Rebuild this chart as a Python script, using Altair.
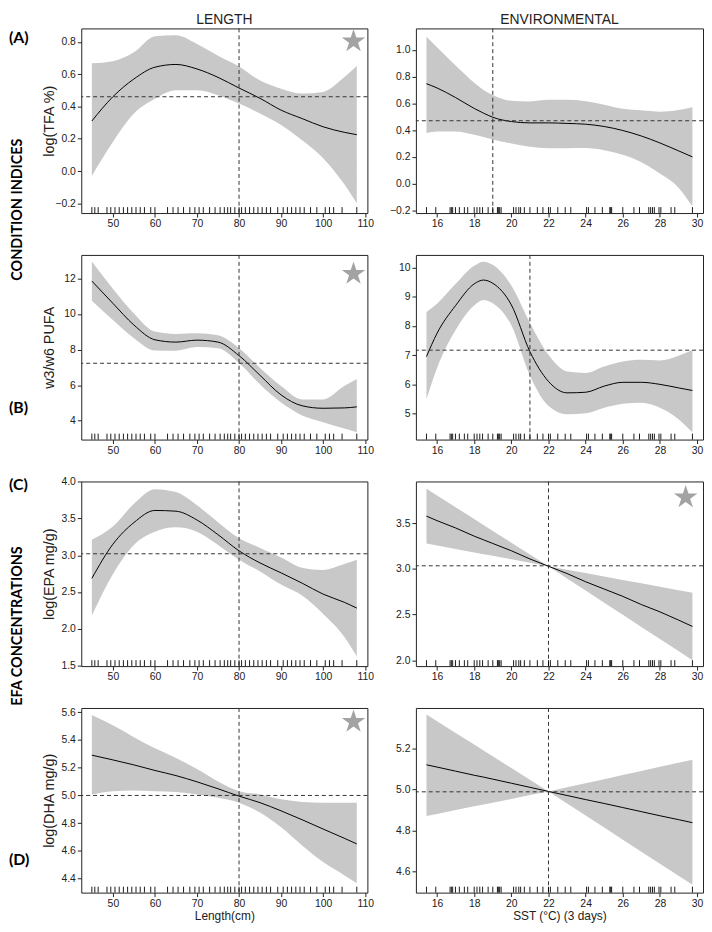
import altair as alt
import pandas as pd

# ---------------- data ----------------
LEN_X = [45, 50, 55, 60, 65, 70, 75, 80, 85, 90, 95, 100, 105, 108]
SST_X = [15.43, 16, 17, 18, 18.5, 19, 20, 21, 22, 23, 24, 25, 26, 27, 28, 29, 29.75]

# (A) log(TFA %)
TFA_LEN_FIT = [0.31, 0.46, 0.57, 0.643, 0.66, 0.632, 0.58, 0.514, 0.45, 0.377, 0.325, 0.274, 0.24, 0.225]
TFA_LEN_UP = [0.667, 0.68, 0.735, 0.835, 0.84, 0.786, 0.714, 0.648, 0.56, 0.51, 0.48, 0.49, 0.58, 0.65]
TFA_LEN_LO = [-0.03, 0.18, 0.356, 0.448, 0.5, 0.5, 0.47, 0.418, 0.356, 0.285, 0.19, 0.08, -0.08, -0.2]
TFA_SST_FIT = [0.747, 0.715, 0.643, 0.562, 0.527, 0.496, 0.464, 0.454, 0.454, 0.45, 0.444, 0.427, 0.397, 0.356, 0.304, 0.245, 0.20]
TFA_SST_UP = [1.098, 1.02, 0.882, 0.754, 0.70, 0.663, 0.619, 0.614, 0.626, 0.626, 0.616, 0.59, 0.56, 0.548, 0.538, 0.55, 0.57]
TFA_SST_LO = [0.378, 0.39, 0.39, 0.365, 0.348, 0.33, 0.30, 0.275, 0.265, 0.265, 0.266, 0.25, 0.215, 0.16, 0.075, -0.03, -0.17]

# (B) w3/w6 PUFA
PUFA_LEN_FIT = [11.85, 10.6, 9.38, 8.55, 8.42, 8.53, 8.42, 7.66, 6.55, 5.45, 4.84, 4.7, 4.72, 4.78]
PUFA_LEN_UP = [12.95, 11.42, 10.03, 9.01, 8.88, 8.92, 8.8, 8.08, 6.97, 5.95, 5.2, 5.2, 5.95, 6.35]
PUFA_LEN_LO = [10.75, 9.66, 8.64, 7.95, 7.94, 8.14, 8.08, 7.25, 6.04, 5.02, 4.3, 3.92, 3.56, 3.35]
PUFA_SST_FIT = [6.95, 7.75, 8.7, 9.44, 9.57, 9.46, 8.72, 7.12, 6.1, 5.71, 5.73, 5.94, 6.07, 6.07, 6.0, 5.88, 5.79]
PUFA_SST_UP = [8.48, 8.76, 9.44, 10.06, 10.2, 10.09, 9.38, 8.1, 7.01, 6.44, 6.39, 6.61, 6.78, 6.84, 6.82, 6.98, 7.18]
PUFA_SST_LO = [5.49, 6.56, 7.86, 8.7, 8.89, 8.78, 8.02, 6.3, 5.26, 4.98, 5.01, 5.2, 5.34, 5.37, 5.2, 4.81, 4.36]

# (C) log(EPA mg/g)
EPA_LEN_FIT = [2.685, 3.15, 3.445, 3.61, 3.6, 3.48, 3.28, 3.06, 2.895, 2.76, 2.62, 2.47, 2.36, 2.28]
EPA_LEN_UP = [3.21, 3.39, 3.70, 3.90, 3.86, 3.68, 3.45, 3.23, 3.1, 2.97, 2.83, 2.8, 2.88, 2.94]
EPA_LEN_LO = [2.18, 2.74, 3.14, 3.32, 3.38, 3.32, 3.14, 2.94, 2.78, 2.6, 2.45, 2.2, 1.89, 1.62]
EPA_SST_FIT = [3.58, 3.53, 3.45, 3.36, 3.32, 3.28, 3.2, 3.11, 3.03, 2.95, 2.86, 2.78, 2.7, 2.61, 2.53, 2.44, 2.37]
EPA_SST_UP = [3.88, 3.806, 3.677, 3.547, 3.483, 3.418, 3.289, 3.159, 3.03, 2.993, 2.955, 2.918, 2.88, 2.843, 2.806, 2.768, 2.74]
EPA_SST_LO = [3.28, 3.258, 3.22, 3.182, 3.163, 3.144, 3.106, 3.068, 3.03, 2.897, 2.764, 2.631, 2.498, 2.365, 2.233, 2.1, 2.0]

# (D) log(DHA mg/g)
DHA_LEN_FIT = [5.29, 5.256, 5.22, 5.18, 5.143, 5.098, 5.048, 4.995, 4.948, 4.889, 4.825, 4.758, 4.692, 4.651]
DHA_LEN_UP = [5.58, 5.505, 5.42, 5.34, 5.27, 5.19, 5.10, 5.03, 5.007, 4.972, 4.953, 4.948, 4.948, 4.948]
DHA_LEN_LO = [5.007, 5.03, 5.035, 5.03, 5.024, 5.007, 4.983, 4.948, 4.877, 4.77, 4.64, 4.52, 4.426, 4.367]
DHA_SST_FIT = [5.12, 5.109, 5.089, 5.069, 5.06, 5.05, 5.03, 5.01, 4.99, 4.97, 4.95, 4.931, 4.911, 4.891, 4.871, 4.852, 4.837]
DHA_SST_UP = [5.366, 5.333, 5.276, 5.219, 5.19, 5.162, 5.104, 5.047, 4.99, 5.01, 5.03, 5.05, 5.07, 5.09, 5.11, 5.13, 5.145]
DHA_SST_LO = [4.87, 4.88, 4.899, 4.917, 4.926, 4.935, 4.953, 4.972, 4.99, 4.931, 4.872, 4.813, 4.754, 4.695, 4.636, 4.577, 4.533]

# rug (observations)
RUG_LEN = [45, 45.7, 46.5, 48.6, 49.5, 50.5, 51.5, 52.5, 53.5, 54.5, 55.5, 56.5, 57.5, 59, 60,
           63, 64.3, 65.5, 66.8, 68.3, 69.5, 70.5, 71.5, 73, 74.3, 75.5, 76.5, 77.3, 78, 79, 80,
           80.6, 81.5, 82.5, 83.5, 84.5, 85.5, 86.5, 87.5, 89.2, 90.5, 91.5, 92.5, 93.5, 94.5,
           95.5, 97, 98.5, 100.5, 101.5, 102.5, 104.5, 108]
RUG_SST = [15.43, 15.93, 16.7, 16.77, 16.84, 16.99, 17.2, 17.47, 17.65, 18.0, 18.15, 18.3, 18.45,
           18.75, 19.0, 19.25, 19.3, 19.37, 19.45, 20.12, 20.25, 20.4, 20.5, 20.7, 21.0, 21.4, 21.7,
           22.0, 22.1, 22.5, 22.9, 23.2, 24.05, 24.15, 24.5, 24.9, 25.3, 25.35, 25.4, 26.0, 26.6,
           26.9, 27.4, 27.5, 27.6, 27.7, 27.95, 28.05, 28.6, 28.8, 29.75]

# reference lines
REF_LEN_X = [80, 80, 80, 80]
REF_LEN_Y = [0.46, 7.23, 3.02, 5.0]
REF_SST_X = [19, 21, 22, 22]
REF_SST_Y = [0.47, 7.17, 3.035, 4.988]

# axes
LEN_DOMAIN = [42.48, 110.52]
SST_DOMAIN = [14.86, 30.32]
LEN_TICKS = [50, 60, 70, 80, 90, 100, 110]
SST_TICKS = [16, 18, 20, 22, 24, 26, 28, 30]
Y_DOMAINS_LEN = [[-0.26, 0.883], [2.94, 13.32], [1.49, 4.005], [4.30, 5.63]]
Y_DOMAINS_SST = [[-0.22, 1.16], [4.11, 10.43], [1.935, 3.96], [4.495, 5.398]]
Y_TICKS_LEN = [[-0.2, 0.0, 0.2, 0.4, 0.6, 0.8], [4, 6, 8, 10, 12],
               [1.5, 2.0, 2.5, 3.0, 3.5, 4.0], [4.4, 4.6, 4.8, 5.0, 5.2, 5.4, 5.6]]
Y_TICKS_SST = [[-0.2, 0.0, 0.2, 0.4, 0.6, 0.8, 1.0], [5, 6, 7, 8, 9, 10],
               [2.0, 2.5, 3.0, 3.5], [4.6, 4.8, 5.0, 5.2]]
Y_FORMATS = [".1f", "d", ".1f", ".1f"]
Y_TITLES = ["log(TFA %)", "w3/w6 PUFA", "log(EPA mg/g)", "log(DHA mg/g)"]
COL_TITLES = ["LENGTH", "ENVIRONMENTAL"]
X_TITLES = ["Length(cm)", "SST (°C) (3 days)"]
ROW_LABELS = ["(A)", "(B)", "(C)", "(D)"]
GROUP_LABELS = ["CONDITION INDICES", "EFA CONCENTRATIONS"]

LEN_CURVES = [(TFA_LEN_FIT, TFA_LEN_UP, TFA_LEN_LO), (PUFA_LEN_FIT, PUFA_LEN_UP, PUFA_LEN_LO),
              (EPA_LEN_FIT, EPA_LEN_UP, EPA_LEN_LO), (DHA_LEN_FIT, DHA_LEN_UP, DHA_LEN_LO)]
SST_CURVES = [(TFA_SST_FIT, TFA_SST_UP, TFA_SST_LO), (PUFA_SST_FIT, PUFA_SST_UP, PUFA_SST_LO),
              (EPA_SST_FIT, EPA_SST_UP, EPA_SST_LO), (DHA_SST_FIT, DHA_SST_UP, DHA_SST_LO)]

# significance stars: (row, column)
STARS = [(0, 0), (1, 0), (2, 1), (3, 0)]

# ---------------- style ----------------
W_LEFT, W_RIGHT, H = 289, 290, 186.5
BAND = "#c8c8c8"
INK = "#222222"
STAR_COLOR = "#a3a3a3"
STAR_PATH = ("M0,-1L0.2245,-0.309L0.9511,-0.309L0.3633,0.118L0.5878,0.809L0,0.382"
             "L-0.5878,0.809L-0.3633,0.118L-0.9511,-0.309L-0.2245,-0.309Z")
STAR_POS = {(0, 0): (14, 13), (1, 0): (14, 19), (2, 1): (17.5, 16), (3, 0): (14, 14)}
LABEL_FONT = "Lato"
AX_FONT = "Liberation Sans"

one = pd.DataFrame({"k": [0]})


def panel(row, col):
    left = col == 0
    xs = LEN_X if left else SST_X
    fit, up, lo = (LEN_CURVES if left else SST_CURVES)[row]
    rug = RUG_LEN if left else RUG_SST
    xdom = LEN_DOMAIN if left else SST_DOMAIN
    xticks = LEN_TICKS if left else SST_TICKS
    ydom = (Y_DOMAINS_LEN if left else Y_DOMAINS_SST)[row]
    yticks = (Y_TICKS_LEN if left else Y_TICKS_SST)[row]
    vref = (REF_LEN_X if left else REF_SST_X)[row]
    href = (REF_LEN_Y if left else REF_SST_Y)[row]
    w = W_LEFT if left else W_RIGHT
    ytitle = Y_TITLES[row] if left else None
    xtitle = X_TITLES[col] if row == 3 else None
    interp = "linear" if (not left and row >= 2) else "monotone"

    xaxis = alt.Axis(values=xticks, format="d", labelOverlap=False)
    yaxis = alt.Axis(values=yticks, format=Y_FORMATS[row], labelOverlap=False,
                     titleX=-25, titleAngle=270, titleBaseline="bottom")

    def X(f):
        return alt.X(f, type="quantitative", scale=alt.Scale(domain=xdom, nice=False, zero=False),
                     axis=xaxis, title=xtitle)

    def Y(f):
        return alt.Y(f, type="quantitative", scale=alt.Scale(domain=ydom, nice=False, zero=False),
                     axis=yaxis, title=ytitle)

    df = pd.DataFrame({"x": xs, "fit": fit, "up": up, "lo": lo})
    ref = pd.DataFrame({"x": [vref], "y": [href]})
    rugdf = pd.DataFrame({"x": rug})

    layers = [
        alt.Chart(df).mark_area(color=BAND, interpolate=interp).encode(x=X("x"), y=Y("lo"), y2="up"),
        alt.Chart(df).mark_line(color="black", strokeWidth=1, interpolate=interp).encode(x=X("x"), y=Y("fit")),
        alt.Chart(ref).mark_rule(color="#333333", strokeWidth=1, strokeDash=[4, 3]).encode(x=X("x")),
        alt.Chart(ref).mark_rule(color="#333333", strokeWidth=1, strokeDash=[4, 3]).encode(y=Y("y")),
        alt.Chart(rugdf).mark_rule(color="black", strokeWidth=0.9).encode(
            x=X("x"), y=alt.value(H), y2=alt.value(H - 6)),
    ]
    if (row, col) in STARS:
        dx, dy = STAR_POS[(row, col)]
        layers.append(alt.Chart(one).mark_point(shape=STAR_PATH, filled=True, size=620,
                                                color=STAR_COLOR, opacity=1, strokeWidth=0)
                      .encode(x=alt.value(w - dx), y=alt.value(dy)))
    if left:
        lab_y = [9.3, 155, 3.7, 154][row]
        layers.append(alt.Chart(one).mark_text(text=ROW_LABELS[row], font=LABEL_FONT, fontWeight="bold",
                                               fontSize=16, align="left", baseline="middle", color="black")
                      .encode(x=alt.value(-73), y=alt.value(lab_y)))
        if row == 0:
            layers.append(alt.Chart(one).mark_text(text=GROUP_LABELS[0], font=LABEL_FONT, fontWeight="bold",
                                                   fontSize=14.5, angle=270, align="center",
                                                   baseline="middle", color="black")
                          .encode(x=alt.value(-63.5), y=alt.value(183)))
        if row == 2:
            layers.append(alt.Chart(one).mark_text(text=GROUP_LABELS[1], font=LABEL_FONT, fontWeight="bold",
                                                   fontSize=14.5, angle=270, align="center",
                                                   baseline="middle", color="black")
                          .encode(x=alt.value(-63.5), y=alt.value(146)))

    props = dict(width=w, height=H)
    if row == 0:
        props["title"] = alt.TitleParams(COL_TITLES[col], font=AX_FONT, fontSize=14, fontWeight="normal",
                                         color=INK, anchor="middle", offset=1)
    return alt.layer(*layers).properties(**props)


panels = [panel(r, c) for r in range(4) for c in range(2)]

chart = (
    alt.concat(*panels, columns=2, spacing={"row": 41.8, "column": 49}, bounds="flush")
    .properties(padding={"left": 0, "top": 0, "right": 0, "bottom": 0}, background="white")
    .configure_view(stroke=INK, strokeWidth=1)
    .configure_axis(domain=False, grid=False, ticks=True, tickSize=4, tickColor=INK, tickWidth=1,
                    labelFont=AX_FONT, labelFontSize=10.5, labelColor=INK, labelPadding=2,
                    titleFont=AX_FONT, titleFontSize=14.5, titleFontWeight="normal", titleColor=INK)
    .configure_axisX(titleFontSize=12, titlePadding=2)
)

chart.save("out.html", embed_options={"renderer": "svg", "actions": False})
